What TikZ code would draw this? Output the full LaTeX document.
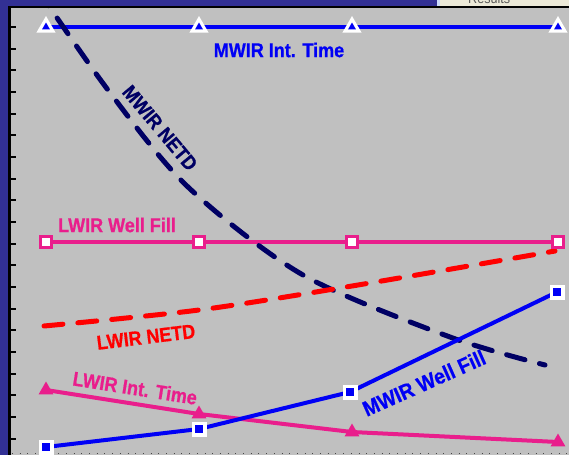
\documentclass[tikz,border=0pt]{standalone}
\usepackage{fontspec}
\newfontfamily\lblfont{Liberation Sans}[FakeStretch=0.9, BoldFeatures={FakeBold=0.7}]
\definecolor{bgray}{RGB}{192,192,192}
\definecolor{navyb}{RGB}{50,48,148}
\definecolor{mblue}{RGB}{0,0,245}
\definecolor{mnavy}{RGB}{0,0,100}
\definecolor{lpink}{RGB}{233,30,140}
\definecolor{lred}{RGB}{255,0,0}
\definecolor{beige}{RGB}{236,233,216}
\definecolor{lstrip}{RGB}{205,220,250}
\tikzset{
  lbl/.style={font=\lblfont\bfseries\fontsize{20}{20}\selectfont, inner sep=0pt},
  solidline/.style={line width=4pt},
  dashline/.style={line width=5pt, line cap=round, dash pattern=on 19pt off 15pt},
  opentri/.pic={\fill[white] (270:11)--(30:11)--(150:11)--cycle;
                \fill[mblue] (270:4.5)--(30:4.5)--(150:4.5)--cycle;},
  filltri/.pic={\fill[lpink] (270:8.5)--(30:8.5)--(150:8.5)--cycle;},
  pinksq/.pic={\fill[lpink] (-7,-7) rectangle (7,7); \fill[white] (-3.8,-3.8) rectangle (3.8,3.8);},
  bluesq/.pic={\fill[white] (-7.5,-7.5) rectangle (7.5,7.5); \fill[mblue] (-4,-4) rectangle (4,4);}
}
\begin{document}
\begin{tikzpicture}[x=1pt,y=-1pt]
\useasboundingbox (0,0) rectangle (569,455);
\fill[bgray] (0,0) rectangle (569,455);
\fill[navyb] (0,0) rectangle (437,6);
\fill[navyb] (0,0) rectangle (8.5,455);
\fill[lstrip] (437,0) rectangle (440,6);
\fill[beige] (440,0) rectangle (569,6);
\begin{scope}
  \clip (440,0) rectangle (569,5.5);
  \node[anchor=base west, inner sep=0pt, text=gray!70!black, font=\lblfont\fontsize{14}{14}\selectfont] (res) at (468,3.5) {Results};
\end{scope}
\draw[black, line width=2.5pt] (8.5,6.75) -- (569,6.75);
\draw[black, line width=2.5pt] (9.25,6) -- (9.25,455);
\foreach \k in {0,...,19} \draw[black, line width=2pt] (9,{27+21.67*\k}) -- (16,{27+21.67*\k});
\draw[gray!55!black, line width=1pt, dash pattern=on 1pt off 6.7pt] (12,453) -- (569,453);

% data points
\coordinate (mi1) at (46,27);  \coordinate (mi2) at (199,27);
\coordinate (mi3) at (352,27); \coordinate (mi4) at (558,27);
\coordinate (lw1) at (46,242);  \coordinate (lw2) at (199,242);
\coordinate (lw3) at (352,242); \coordinate (lw4) at (558,242);
\coordinate (li1) at (46,390);  \coordinate (li2) at (199,414);
\coordinate (li3) at (352,432); \coordinate (li4) at (558,442);
\coordinate (mw1) at (46,447);  \coordinate (mw2) at (199,429);
\coordinate (mw3) at (350,392); \coordinate (mw4) at (557,292);
\coordinate (mn0) at (38,-10);  \coordinate (mn1) at (108,90);
\coordinate (mn2) at (188,187); \coordinate (mn3) at (303,275);
\coordinate (mn4) at (450,337); \coordinate (mn5) at (545,365);
\coordinate (ln1) at (44,326);  \coordinate (ln2) at (199,310);
\coordinate (ln3) at (352,286); \coordinate (ln4) at (555,251);

\begin{scope}
  \clip (10.5,8) rectangle (569,455);
  \draw[solidline, mblue] (mi1) -- (mi2) -- (mi3) -- (mi4);
  \draw[solidline, lpink] (lw1) -- (lw2) -- (lw3) -- (lw4);
  \draw[dashline, mnavy] plot[smooth] coordinates {(mn0) (mn1) (mn2) (mn3) (mn4) (mn5)};
  \draw[dashline, lred] plot[smooth] coordinates {(ln1) (ln2) (ln3) (ln4)};
  \draw[solidline, lpink] (li1) -- (li2) -- (li3) -- (li4);
  \draw[solidline, mblue] (mw1) -- (mw2) -- (mw3) -- (mw4);
\end{scope}

\foreach \p in {mi1,mi2,mi3,mi4} \pic at (\p) {opentri};
\foreach \p in {lw1,lw2,lw3,lw4} \pic at (\p) {pinksq};
\foreach \p in {li1,li2,li3,li4} \pic at (\p) {filltri};
\foreach \p in {mw1,mw2,mw3,mw4} \pic at (\p) {bluesq};

\node[lbl, text=mblue] (tMI) at (279,50) {MWIR Int. Time};
\node[lbl, text=mnavy, rotate=-50] (tMN) at (160,128) {MWIR NETD};
\node[lbl, text=lpink] (tLW) at (117,225) {LWIR Well Fill};
\node[lbl, text=lred, rotate=7] (tLN) at (146,337) {LWIR NETD};
\node[lbl, text=lpink, rotate=-9] (tLI) at (135,388) {LWIR Int. Time};
\node[lbl, text=mblue, rotate=24, font=\lblfont\bfseries\fontsize{21.5}{21.5}\selectfont] (tMW) at (424,383) {MWIR Well Fill};
\end{tikzpicture}
\end{document}
